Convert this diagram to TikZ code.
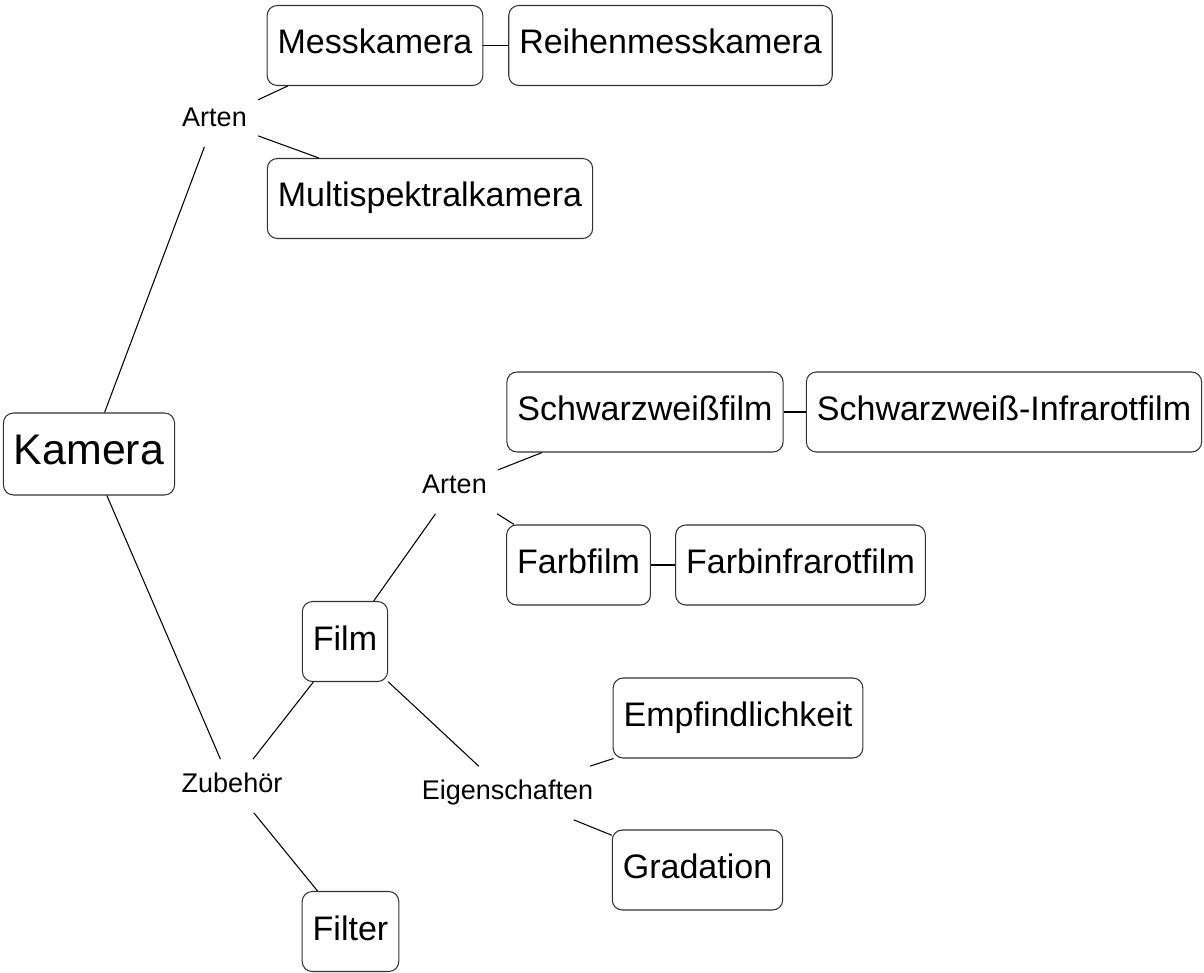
\documentclass[tikz,border=0pt]{standalone}
\usepackage{fontspec}
\setmainfont{Liberation Sans}
\usetikzlibrary{positioning}

\begin{document}
\begin{tikzpicture}[
  x=0.02cm,y=-0.02cm,
  box/.style={draw=black!80,line width=0.6pt,rounded corners=0.2cm,inner xsep=0.21cm,inner ysep=0pt,
    minimum height=1.6cm,font=\fontsize{19.36pt}{23pt}\selectfont,text height=0.51cm,text depth=0.17cm},
  root/.style={box,minimum height=1.64cm,font=\fontsize{24.4pt}{29pt}\selectfont,
    text height=0.643cm,text depth=0.214cm},
  lbl/.style={inner xsep=0.22cm,inner ysep=0.26cm,font=\fontsize{15.37pt}{18pt}\selectfont,
    text height=0.405cm,text depth=0.135cm},
  ln/.style={draw=black,line width=0.6pt},
]
\useasboundingbox (0,0) rectangle (1204,973);
% coordinates are in pixels of the page; labels sit between the boxes
\node[root] (kamera) at (89,454) {Kamera};
\node[lbl] (arten1) at (214.5,120) {Arten};
\node[box] (mess) at (375,45.5) {Messkamera};
\node[box] (reihe) at (670.5,45.5) {Reihenmesskamera};
\node[box] (multi) at (430,198.5) {Multispektralkamera};

\node[lbl] (zub) at (232,786) {Zubehör};
\node[box] (film) at (345,641.5) {Film};
\node[box] (filter) at (350.5,931.5) {Filter};

\node[lbl] (arten2) at (454.5,487) {Arten};
\node[box] (sw) at (645,412) {Schwarzweißfilm};
\node[box] (swir) at (1004,412) {Schwarzweiß-Infrarotfilm};
\node[box] (farb) at (578.5,565) {Farbfilm};
\node[box] (farbir) at (800.5,565) {Farbinfrarotfilm};

\node[lbl] (eig) at (507.5,793) {Eigenschaften};
\node[box] (empf) at (738,718) {Empfindlichkeit};
\node[box] (grad) at (697.5,870) {Gradation};

\draw[ln] (kamera) -- (arten1);
\draw[ln] (arten1) -- (mess); \draw[ln] (arten1) -- (multi);
\draw[ln] (mess) -- (reihe);
\draw[ln] (kamera) -- (zub);
\draw[ln] (zub) -- (film); \draw[ln] (zub) -- (filter);
\draw[ln] (film) -- (arten2);
\draw[ln] (arten2) -- (sw); \draw[ln] (arten2) -- (farb);
\draw[ln] (sw) -- (swir); \draw[ln] (farb) -- (farbir);
\draw[ln] (film) -- (eig);
\draw[ln] (eig) -- (empf); \draw[ln] (eig) -- (grad);
\end{tikzpicture}
\end{document}
